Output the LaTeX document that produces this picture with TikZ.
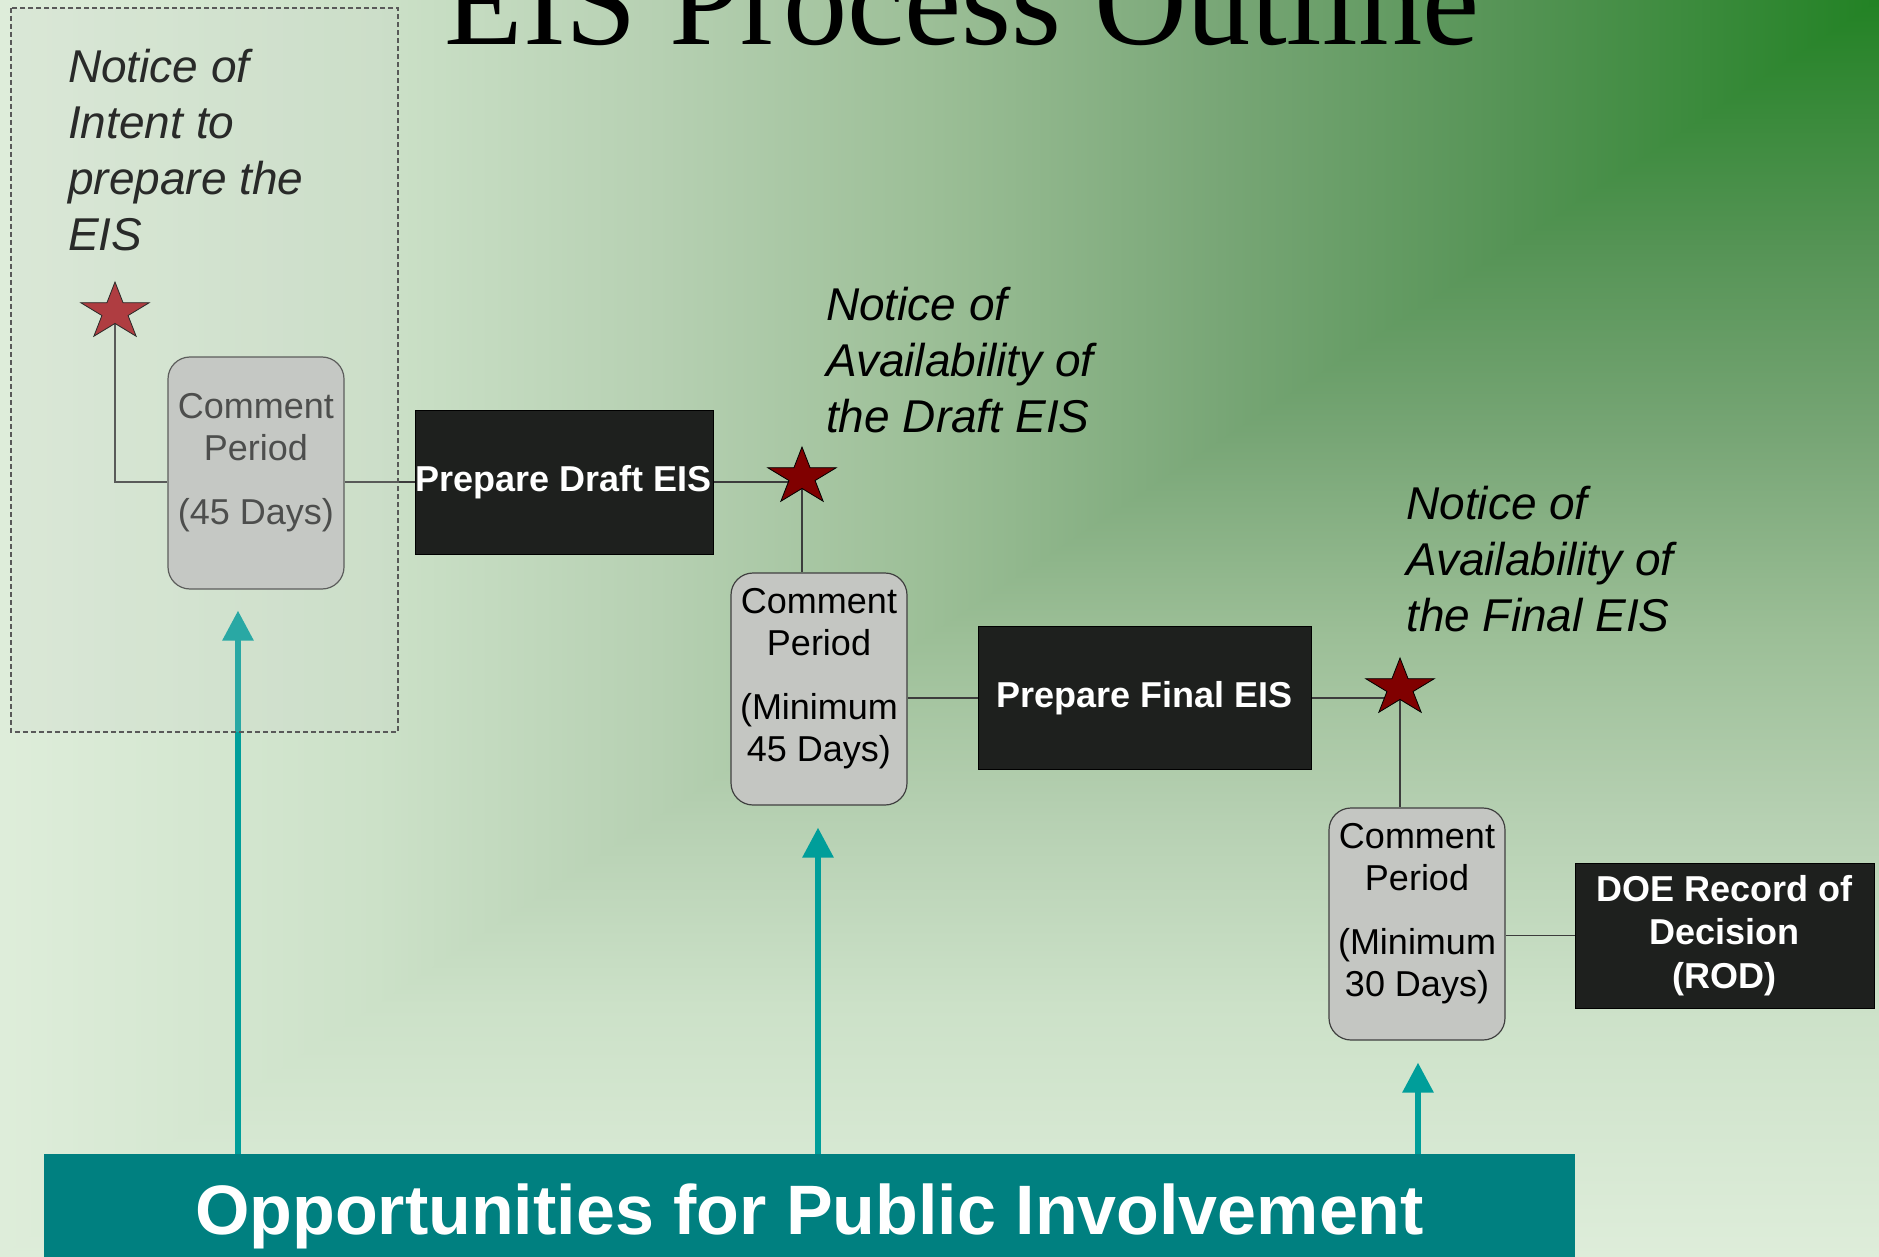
\documentclass[tikz,border=0pt]{standalone}
\usepackage{fontspec}
\setmainfont{Liberation Sans}
\newfontfamily\titlefont{Liberation Serif}
\usetikzlibrary{shapes.geometric,arrows.meta}
\definecolor{g0}{RGB}{34,130,36}
\definecolor{g1}{RGB}{86,148,86}
\definecolor{g2}{RGB}{120,166,118}
\definecolor{g3}{RGB}{155,190,150}
\definecolor{g4}{RGB}{182,208,178}
\definecolor{g5}{RGB}{204,225,200}
\definecolor{g6}{RGB}{222,237,218}
\definecolor{tealbar}{RGB}{0,128,128}
\definecolor{tealarrow}{RGB}{0,158,154}
\definecolor{maroonstar}{RGB}{128,0,0}
\definecolor{redstar}{RGB}{168,24,30}
\definecolor{boxgray}{RGB}{196,198,194}
\definecolor{darkbox}{RGB}{30,32,30}
\definecolor{linegray}{RGB}{60,60,60}
\definecolor{veil}{RGB}{205,212,205}
\definecolor{softtext}{RGB}{45,45,45}
\pgfdeclarelayer{bg}
\pgfdeclarelayer{edges}
\pgfsetlayers{bg,edges,main}
\begin{document}
\begin{tikzpicture}[x=1pt,y=-1pt,
  conn/.style={draw=linegray, line width=1.5pt},
  cbox/.style={draw=black!75, line width=1.2pt, fill=boxgray, rounded corners=22pt,
    minimum width=176pt, minimum height=232pt, inner sep=0pt, align=center,
    font=\fontsize{36}{42}\selectfont},
  dbox/.style={draw=black, line width=1pt, fill=darkbox, inner sep=0pt, align=center,
    text=white, font=\bfseries\fontsize{36}{43.5}\selectfont},
  notice/.style={anchor=base west, inner sep=0pt, align=left,
    font=\itshape\fontsize{46}{56}\selectfont},
  evstar/.style={star, star points=5, star point ratio=2.618, minimum size=60pt,
    inner sep=0pt, draw=black, line width=0.8pt, xscale=1.2},
  pubarrow/.style={draw=tealarrow, line width=6pt, -{Triangle[width=30pt,length=30pt]}},
]
\useasboundingbox (0,0) rectangle (1879,1257);
\clip (0,0) rectangle (1879,1257);

% background: gradient from the top-right corner
\begin{pgfonlayer}{bg}
  \foreach \xa/\xb/\ca/\cb in {1503.2/1879/g1/g0, 1221.35/1503.2/g2/g1, 939.5/1221.35/g3/g2,
      657.65/939.5/g4/g3, 375.8/657.65/g5/g4, 0/375.8/g6/g5}
    \shade[left color=\ca, right color=\cb] (\xa-0.5,0) rectangle (\xb+0.5,1257);
  \begin{scope}
    \clip (1879,0) -- (1879,1257) -- (0,1257) -- cycle;
    \foreach \ya/\yb/\ca/\cb in {0/251.4/g0/g1, 251.4/439.95/g1/g2, 439.95/628.5/g2/g3,
        628.5/817.05/g3/g4, 817.05/1005.6/g4/g5, 1005.6/1257/g5/g6}
      \shade[top color=\ca, bottom color=\cb] (0,\ya-0.5) rectangle (1879,\yb+0.5);
  \end{scope}
\end{pgfonlayer}

% title
\node[anchor=base, inner sep=0pt, font=\titlefont\fontsize{128.5}{130}\selectfont] (title) at (962,45) {EIS Process Outline};

% notices (anchor on the baseline of the last line)
\node[notice] (n1) at (68,251) {Notice of\\Intent to\\prepare the\\EIS};
\node[notice] (n2) at (826,432) {Notice of\\Availability of\\the Draft EIS};
\node[notice] (n3) at (1406,631) {Notice of\\Availability of\\the Final EIS};

% stars
\node[evstar, fill=redstar] (s1) at (115,312) {};
\node[evstar, fill=maroonstar] (s2) at (802,477) {};
\node[evstar, fill=maroonstar] (s3) at (1400,688) {};

% comment periods
\node[cbox, text=softtext] (cp1) at (256,473) {Comment\\Period\\[22pt](45 Days)\rule[-28pt]{0pt}{28pt}};
\node[cbox] (cp2) at (819,689) {Comment\\Period\\[22pt](Minimum\\45 Days)\rule[-28pt]{0pt}{28pt}};
\node[cbox] (cp3) at (1417,924) {Comment\\Period\\[22pt](Minimum\\30 Days)\rule[-28pt]{0pt}{28pt}};

% steps
\node[dbox, minimum width=298pt, minimum height=144pt] (pd) at (564,482) {Prepare Draft EIS};
\node[dbox, minimum width=333pt, minimum height=143pt] (pf) at (1144.5,698) {Prepare Final EIS};
\node[dbox, minimum width=299pt, minimum height=145pt] (rod) at (1724.5,935.5) {DOE Record of\\Decision\\(ROD)};

% public involvement bar
\node[fill=tealbar, minimum width=1531pt, minimum height=150pt, inner sep=0pt, text=white,
  font=\bfseries\fontsize{70}{84}\selectfont, text height=50pt, text depth=40pt]
  (bar) at (809.5,1229) {Opportunities for Public Involvement};

% connectors
\begin{pgfonlayer}{edges}
  \draw[conn] (s1.center) |- (cp1.west |- pd.west);
  \draw[conn] (cp1.east |- pd.west) -- (pd.west);
  \draw[conn] (pd.east) -- (pd.east -| s2.center);
  \draw[conn] (s2.center) -- (s2.center |- cp2.north);
  \draw[conn] (cp2.east |- pf.west) -- (pf.west);
  \draw[conn] (pf.east) -- (pf.east -| s3.center);
  \draw[conn] (s3.center) -- (s3.center |- cp3.north);
  \draw[conn] (cp3.east |- rod.west) -- (rod.west);
\end{pgfonlayer}

\coordinate (a1) at (238,1154);
\coordinate (a2) at (818,1154);
\coordinate (a3) at (1418,1154);
\draw[pubarrow, shorten >=21pt] (a1) -- (a1 |- cp1.south);
\draw[pubarrow, shorten >=22pt] (a2) -- (a2 |- cp2.south);
\draw[pubarrow, shorten >=22pt] (a3) -- (a3 |- cp3.south);

% dashed veil over the notice of intent
\draw[draw=black!65, line width=1.3pt, dash pattern=on 5pt off 3pt, fill=veil, fill opacity=0.2]
  (11,8) rectangle (398,732);
\end{tikzpicture}
\end{document}
